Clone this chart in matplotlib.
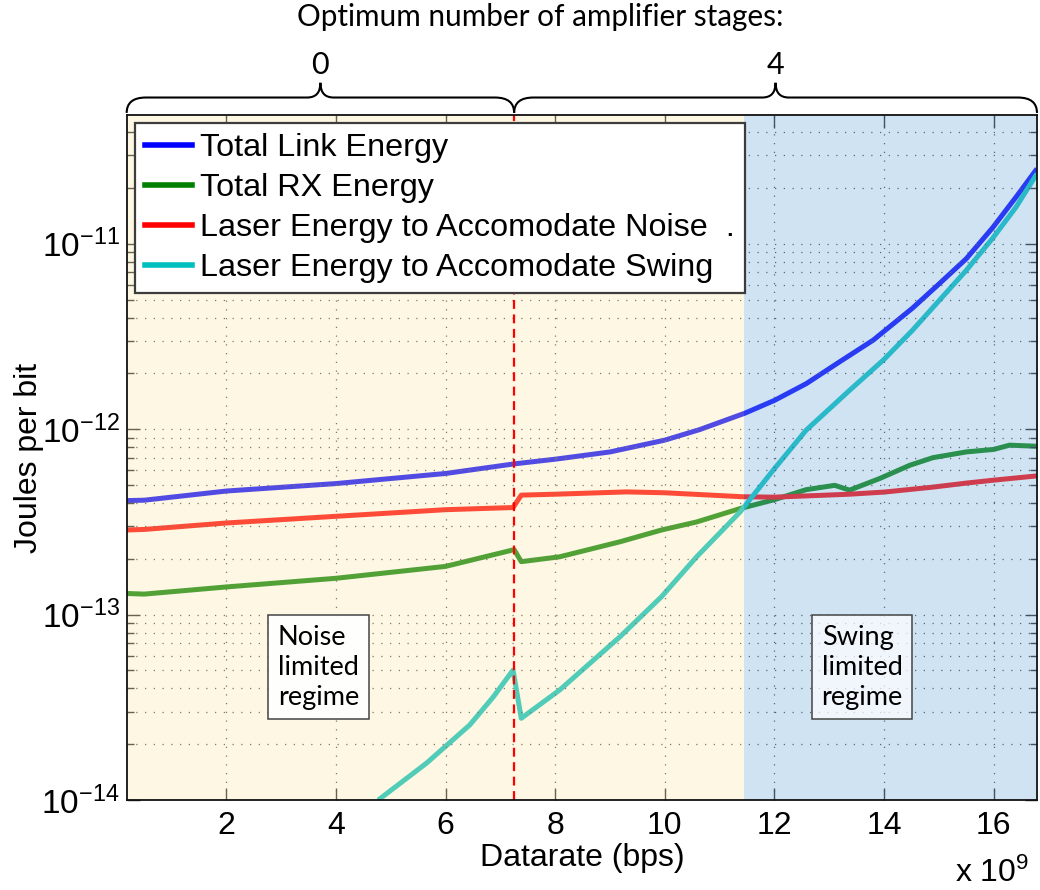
import matplotlib
matplotlib.use("Agg")
import matplotlib.pyplot as plt
import matplotlib.transforms as mtransforms
from matplotlib.path import Path
from matplotlib.patches import PathPatch
from matplotlib.lines import Line2D
from matplotlib.ticker import LogLocator, NullFormatter, FixedLocator

plt.rcParams.update({
    "font.family": ["Liberation Sans", "DejaVu Sans"],
    "mathtext.fontset": "custom",
    "mathtext.rm": "Liberation Sans",
    "mathtext.it": "Liberation Sans",
    "mathtext.bf": "Liberation Sans:bold",
    "mathtext.default": "regular",
})

# ---------------- data (datarate in units of 1e9 bps, energy in J/bit) -------------
link_x = [0.18, 0.5, 2, 4, 6, 7.25, 8, 9, 10, 10.64, 11.46, 12.0, 12.58, 13.19, 13.8,
          14.52, 15.01, 15.5, 15.98, 16.41, 16.79]
link_y = [4.12e-13, 4.14e-13, 4.64e-13, 5.09e-13, 5.77e-13, 6.5e-13, 6.89e-13, 7.54e-13,
          8.73e-13, 9.96e-13, 1.22e-12, 1.43e-12, 1.76e-12, 2.31e-12, 3.02e-12,
          4.50e-12, 6.10e-12, 8.31e-12, 1.22e-11, 1.79e-11, 2.54e-11]

rx_x = [0.18, 0.5, 2, 4, 6, 7.25, 7.38, 8.08, 9.18, 9.94, 10.58, 11.37, 12.0, 12.58,
        13.1, 13.37, 13.92, 14.47, 14.89, 15.5, 16.0, 16.29, 16.79]
rx_y = [1.30e-13, 1.29e-13, 1.41e-13, 1.57e-13, 1.82e-13, 2.24e-13, 1.93e-13, 2.05e-13,
        2.47e-13, 2.86e-13, 3.16e-13, 3.73e-13, 4.17e-13, 4.72e-13, 4.98e-13, 4.69e-13,
        5.42e-13, 6.39e-13, 7.02e-13, 7.54e-13, 7.78e-13, 8.20e-13, 8.09e-13]

noise_x = [0.18, 0.5, 2, 4, 6, 7.23, 7.38, 8, 9.3, 10, 11.43, 12.0, 13.37, 14.0, 14.89,
           15.5, 16.0, 16.79]
noise_y = [2.86e-13, 2.88e-13, 3.12e-13, 3.39e-13, 3.68e-13, 3.78e-13, 4.41e-13, 4.46e-13,
           4.59e-13, 4.54e-13, 4.32e-13, 4.30e-13, 4.46e-13, 4.58e-13, 4.87e-13, 5.12e-13,
           5.31e-13, 5.60e-13]

swing_x = [4.77, 5.65, 6.44, 6.87, 7.23, 7.38, 8.08, 9.18, 9.94, 10.58, 11.37, 12.0,
           12.58, 13.37, 14.0, 14.52, 15.01, 15.5, 15.98, 16.41, 16.79]
swing_y = [1.0e-14, 1.58e-14, 2.54e-14, 3.60e-14, 5.02e-14, 2.76e-14, 3.92e-14, 7.59e-14,
           1.25e-13, 2.05e-13, 3.57e-13, 6.13e-13, 9.89e-13, 1.62e-12, 2.38e-12,
           3.42e-12, 4.96e-12, 7.19e-12, 1.07e-11, 1.58e-11, 2.39e-11]

series_labels = ["Total Link Energy", "Total RX Energy",
                 "Laser Energy to Accomodate Noise  .",
                 "Laser Energy to Accomodate Swing"]
series_colors = ["#0000ff", "#008000", "#ff0000", "#00bfbf"]

x_limits = [0.18, 16.79]
y_limits = [1e-14, 4.95e-11]
x_ticks = [2, 4, 6, 8, 10, 12, 14, 16]
y_ticks = [1e-14, 1e-13, 1e-12, 1e-11]

amp_switch = 7.25          # change of optimum amplifier stage count
regime_switch = 11.44      # noise-limited -> swing-limited
stage_counts = ["0", "4"]
regime_labels = ["Noise\nlimited\nregime", "Swing\nlimited\nregime"]
regime_label_x = [2.94, 12.86]

# ---------------- figure ----------------
fig = plt.figure(figsize=(10.4, 8.9), dpi=100)
ax = fig.add_axes([0.1218, 0.1011, 0.8753, 0.7697])
ax.set_yscale("log")
ax.set_xlim(x_limits)
ax.set_ylim(y_limits)

for xs, ys, c in zip([link_x, rx_x, noise_x, swing_x],
                     [link_y, rx_y, noise_y, swing_y], series_colors):
    ax.plot(xs, ys, color=c, lw=3.6, zorder=2, solid_joinstyle="round",
            solid_capstyle="butt", clip_on=True)

# shaded regimes drawn over the lines (semi transparent)
ax.axvspan(x_limits[0], regime_switch, facecolor=(249/255, 231/255, 170/255),
           alpha=0.33, lw=0, zorder=3)
ax.axvspan(regime_switch, x_limits[1], facecolor=(118/255, 175/255, 221/255),
           alpha=0.35, lw=0, zorder=3)

ax.axvline(amp_switch, color="#ff0000", lw=1.6, ls=(0, (4, 2.5)), zorder=4)

# grid
ax.set_axisbelow(False)
ax.xaxis.set_major_locator(FixedLocator(x_ticks))
ax.yaxis.set_major_locator(FixedLocator(y_ticks))
ax.yaxis.set_minor_locator(LogLocator(base=10, subs=range(2, 10), numticks=20))
ax.yaxis.set_minor_formatter(NullFormatter())
ax.grid(True, which="major", axis="both", color="#444444", lw=0.9, ls=(0, (1, 6)), zorder=3.5)
ax.grid(True, which="minor", axis="y", color="#444444", lw=0.9, ls=(0, (1, 6)), zorder=3.5)

ax.tick_params(which="both", direction="in", top=True, right=True, width=1.0,
               colors="#222222", labelcolor="black")
ax.tick_params(which="major", length=9)
ax.tick_params(which="minor", length=5)
ax.tick_params(axis="x", labelsize=23, pad=8)
ax.tick_params(axis="y", labelsize=24, pad=5)
for sp in ax.spines.values():
    sp.set_linewidth(1.3)
    sp.set_color("#111111")
    sp.set_zorder(6)

# legend
handles = [Line2D([], [], color=c, lw=4) for c in series_colors]
leg = ax.legend(handles, series_labels, loc="upper left", bbox_to_anchor=(0.009, 0.988),
                borderaxespad=0, fontsize=23.3, frameon=True, fancybox=False,
                handlelength=1.47, handletextpad=0.25, labelspacing=0.31,
                borderpad=0.3, framealpha=1)
leg.get_frame().set_edgecolor("#3c3c3c")
leg.get_frame().set_linewidth(1.6)
leg.set_zorder(7)

# regime boxes
for lx, txt, fa in zip(regime_label_x, regime_labels, [0.95, 0.7]):
    ax.text(lx, 0.2562, txt, transform=mtransforms.blended_transform_factory(ax.transData, ax.transAxes),
            ha="left", va="top", fontsize=19.5, family=["Lato", "DejaVu Sans"], linespacing=1.25,
            zorder=8,
            bbox=dict(boxstyle="square,pad=0.35", facecolor=(1, 1, 1, fa), edgecolor="#444444", lw=1.1))

# braces above the axes
trans = mtransforms.blended_transform_factory(ax.transData, ax.transAxes)
bounds = [x_limits[0], amp_switch, x_limits[1]]
y0, y1, y2 = 1.003, 1.0255, 1.047
r, r2 = 0.35, 0.24
for i, lab in enumerate(stage_counts):
    xa, xb = bounds[i], bounds[i + 1]
    xm = 0.5 * (xa + xb)
    verts = [(xa, y0), (xa, y1), (xa + r, y1), (xm - r2, y1), (xm, y1), (xm, y2),
             (xm, y1), (xm + r2, y1), (xb - r, y1), (xb, y1), (xb, y0)]
    codes = [Path.MOVETO, Path.CURVE3, Path.CURVE3, Path.LINETO, Path.CURVE3, Path.CURVE3,
             Path.CURVE3, Path.CURVE3, Path.LINETO, Path.CURVE3, Path.CURVE3]
    ax.add_patch(PathPatch(Path(verts, codes), transform=trans, fill=False, lw=1.5,
                           edgecolor="black", clip_on=False))
    ax.text(xm, 1.0595, lab, transform=trans, ha="center", va="baseline",
            fontsize=22, family=["Lato", "DejaVu Sans"])

fig.text(0.519, 0.9708, "Optimum number of amplifier stages:", ha="center", va="baseline",
         fontsize=21.4, family=["Lato", "DejaVu Sans"])

fig.text(0.028, 0.486, "Joules per bit", rotation=90, ha="center", va="center", fontsize=23)
fig.text(0.56, 0.027, "Datarate (bps)", ha="center", va="baseline", fontsize=23)
fig.text(0.99, 0.009, "x 10$^{9}$", ha="right", va="baseline", fontsize=23)

fig.savefig("out.png", dpi=100)
